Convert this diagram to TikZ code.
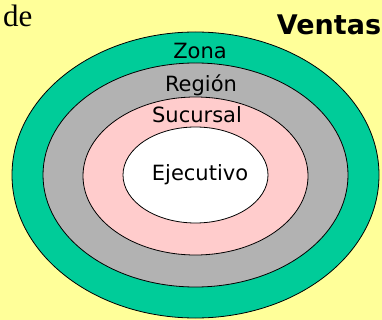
\documentclass[tikz,border=0pt]{standalone}
\usepackage{fontspec}
\setmainfont{DejaVu Sans}
\newfontfamily\serifde{Liberation Serif}
\usepackage{tikz}
\usetikzlibrary{arrows}

\definecolor{fondo}{HTML}{FFFF99}
\definecolor{verde}{HTML}{00CC99}
\definecolor{gris}{HTML}{B2B2B2}
\definecolor{rosa}{HTML}{FFCCCC}

\begin{document}
\begin{tikzpicture}[x=1pt,y=-1pt,
		anillo/.style={draw=black,line width=0.8pt},
		etiq/.style={anchor=base,inner sep=0pt,font=\fontsize{21}{24}\selectfont}]
		\fill[fondo] (0,0) rectangle (382,320);
		\useasboundingbox (0,0) rectangle (382,320);
	
		\filldraw[anillo,fill=verde] (195.5,175) ellipse [x radius=183.5pt,y radius=143pt];
		\filldraw[anillo,fill=gris] (195.5,175) ellipse [x radius=152.5pt,y radius=112pt];
		\filldraw[anillo,fill=rosa] (195.5,176) ellipse [x radius=112.5pt,y radius=79pt];
		\filldraw[anillo,fill=white] (195.5,175) ellipse [x radius=72.5pt,y radius=48pt];
		
		\node[etiq] (zona) at (200,59) {Zona};
		\node[etiq] (region) at (201,92) {Región};
		\node[etiq] (sucursal) at (197,123) {Sucursal};
		\node[etiq] (ejec) at (200,181) {Ejecutivo};
		
		\node[anchor=base,inner sep=0pt,font=\fontsize{27}{30}\selectfont\bfseries] (ventas) at (329,35) {Ventas};
		\node[anchor=base west,inner sep=0pt,font=\fontsize{31}{34}\selectfont\serifde] (de) at (3,27) {de};
	\end{tikzpicture}
\end{document}
